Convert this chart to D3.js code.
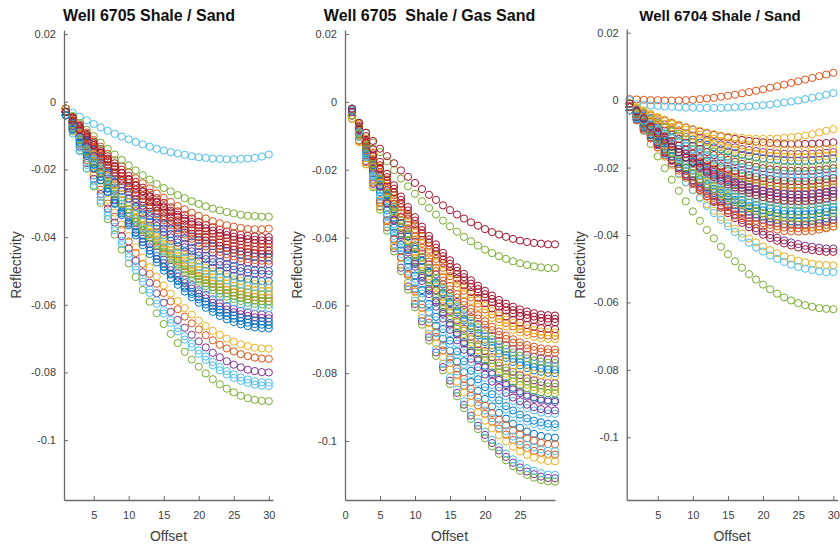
<!DOCTYPE html>
<html><head><meta charset="utf-8">
<script src="https://cdn.jsdelivr.net/npm/d3@7"></script>
<style>body{margin:0;background:#fff} svg{display:block} text{font-family:"Liberation Sans",Arial,Helvetica,sans-serif}</style>
</head><body><svg id="chart" width="840" height="550"></svg>
<script>
const offsets = [1,2,3,4,5,6,7,8,9,10,11,12,13,14,15,16,17,18,19,20,21,22,23,24,25,26,27,28,29,30];
const yTickValues = [0.02, 0, -0.02, -0.04, -0.06, -0.08, -0.1];
const xTicksA = [5, 10, 15, 20, 25, 30];
const xTicksB = [0, 5, 10, 15, 20, 25];
const panelTitles = ["Well 6705 Shale / Sand", "Well 6705  Shale / Gas Sand", "Well 6704 Shale / Sand"];
const axisLabelX = "Offset";
const axisLabelY = "Reflectivity";
const lineColors = ["#0072BD","#D95319","#EDB120","#7E2F8E","#77AC30","#4DBEEE","#A2142F"];

const shaleSand6705 = [
[-0.0030,-0.0062,-0.0093,-0.0122,-0.0151,-0.0178,-0.0204,-0.0230,-0.0254,-0.0276,-0.0298,-0.0319,-0.0338,-0.0357,-0.0375,-0.0391,-0.0406,-0.0420,-0.0432,-0.0444,-0.0455,-0.0464,-0.0473,-0.0480,-0.0486,-0.0491,-0.0495,-0.0498,-0.0499,-0.0500],
[-0.0030,-0.0080,-0.0127,-0.0173,-0.0218,-0.0260,-0.0301,-0.0340,-0.0378,-0.0413,-0.0447,-0.0479,-0.0509,-0.0538,-0.0565,-0.0590,-0.0613,-0.0635,-0.0655,-0.0673,-0.0690,-0.0705,-0.0718,-0.0729,-0.0738,-0.0746,-0.0752,-0.0756,-0.0759,-0.0760],
[-0.0030,-0.0078,-0.0123,-0.0167,-0.0210,-0.0251,-0.0290,-0.0328,-0.0363,-0.0397,-0.0430,-0.0461,-0.0489,-0.0517,-0.0543,-0.0567,-0.0589,-0.0610,-0.0629,-0.0647,-0.0663,-0.0677,-0.0689,-0.0700,-0.0709,-0.0717,-0.0722,-0.0727,-0.0729,-0.0730],
[-0.0030,-0.0072,-0.0111,-0.0150,-0.0187,-0.0222,-0.0256,-0.0289,-0.0320,-0.0350,-0.0378,-0.0405,-0.0430,-0.0455,-0.0477,-0.0498,-0.0517,-0.0536,-0.0552,-0.0567,-0.0581,-0.0594,-0.0605,-0.0614,-0.0622,-0.0628,-0.0633,-0.0637,-0.0639,-0.0640],
[-0.0030,-0.0088,-0.0144,-0.0198,-0.0250,-0.0299,-0.0347,-0.0393,-0.0437,-0.0478,-0.0518,-0.0556,-0.0591,-0.0625,-0.0657,-0.0686,-0.0713,-0.0739,-0.0762,-0.0783,-0.0803,-0.0820,-0.0835,-0.0848,-0.0859,-0.0869,-0.0876,-0.0881,-0.0884,-0.0885],
[-0.0020,-0.0032,-0.0044,-0.0055,-0.0066,-0.0076,-0.0086,-0.0095,-0.0103,-0.0111,-0.0119,-0.0126,-0.0133,-0.0139,-0.0144,-0.0149,-0.0153,-0.0157,-0.0161,-0.0164,-0.0166,-0.0168,-0.0169,-0.0170,-0.0170,-0.0169,-0.0168,-0.0166,-0.0162,-0.0156],
[-0.0020,-0.0046,-0.0071,-0.0095,-0.0118,-0.0140,-0.0161,-0.0182,-0.0201,-0.0219,-0.0237,-0.0254,-0.0269,-0.0285,-0.0299,-0.0312,-0.0324,-0.0335,-0.0345,-0.0355,-0.0364,-0.0371,-0.0378,-0.0384,-0.0389,-0.0393,-0.0396,-0.0398,-0.0400,-0.0400],
[-0.0030,-0.0074,-0.0115,-0.0155,-0.0195,-0.0232,-0.0267,-0.0302,-0.0335,-0.0365,-0.0395,-0.0424,-0.0450,-0.0475,-0.0499,-0.0521,-0.0541,-0.0561,-0.0578,-0.0594,-0.0609,-0.0621,-0.0633,-0.0643,-0.0651,-0.0658,-0.0663,-0.0667,-0.0669,-0.0670],
[-0.0020,-0.0045,-0.0068,-0.0091,-0.0113,-0.0133,-0.0154,-0.0173,-0.0191,-0.0209,-0.0226,-0.0241,-0.0256,-0.0271,-0.0284,-0.0296,-0.0308,-0.0318,-0.0328,-0.0337,-0.0345,-0.0353,-0.0359,-0.0365,-0.0369,-0.0373,-0.0376,-0.0377,-0.0377,-0.0375],
[-0.0030,-0.0065,-0.0098,-0.0130,-0.0161,-0.0191,-0.0219,-0.0247,-0.0273,-0.0297,-0.0321,-0.0344,-0.0365,-0.0385,-0.0404,-0.0421,-0.0438,-0.0453,-0.0467,-0.0479,-0.0491,-0.0501,-0.0510,-0.0518,-0.0525,-0.0530,-0.0534,-0.0538,-0.0540,-0.0540],
[-0.0030,-0.0082,-0.0132,-0.0181,-0.0228,-0.0273,-0.0316,-0.0357,-0.0397,-0.0434,-0.0470,-0.0504,-0.0535,-0.0566,-0.0594,-0.0621,-0.0645,-0.0668,-0.0689,-0.0708,-0.0726,-0.0742,-0.0755,-0.0767,-0.0777,-0.0785,-0.0792,-0.0796,-0.0799,-0.0800],
[-0.0020,-0.0042,-0.0063,-0.0083,-0.0102,-0.0121,-0.0139,-0.0156,-0.0172,-0.0188,-0.0203,-0.0217,-0.0230,-0.0243,-0.0255,-0.0265,-0.0276,-0.0285,-0.0294,-0.0302,-0.0309,-0.0316,-0.0321,-0.0326,-0.0330,-0.0334,-0.0337,-0.0338,-0.0340,-0.0340],
[-0.0030,-0.0084,-0.0136,-0.0187,-0.0236,-0.0282,-0.0327,-0.0370,-0.0411,-0.0449,-0.0487,-0.0522,-0.0555,-0.0587,-0.0616,-0.0644,-0.0669,-0.0693,-0.0715,-0.0735,-0.0753,-0.0769,-0.0784,-0.0796,-0.0806,-0.0815,-0.0821,-0.0826,-0.0829,-0.0830],
[-0.0020,-0.0047,-0.0073,-0.0098,-0.0123,-0.0146,-0.0168,-0.0190,-0.0210,-0.0230,-0.0248,-0.0266,-0.0282,-0.0298,-0.0313,-0.0327,-0.0340,-0.0352,-0.0362,-0.0372,-0.0382,-0.0390,-0.0397,-0.0403,-0.0408,-0.0412,-0.0416,-0.0418,-0.0420,-0.0420],
[-0.0030,-0.0059,-0.0087,-0.0114,-0.0141,-0.0166,-0.0190,-0.0213,-0.0235,-0.0255,-0.0276,-0.0295,-0.0312,-0.0329,-0.0345,-0.0360,-0.0374,-0.0387,-0.0398,-0.0409,-0.0419,-0.0427,-0.0435,-0.0441,-0.0447,-0.0452,-0.0455,-0.0458,-0.0460,-0.0460],
[-0.0030,-0.0067,-0.0103,-0.0138,-0.0171,-0.0203,-0.0234,-0.0264,-0.0292,-0.0318,-0.0344,-0.0368,-0.0391,-0.0413,-0.0433,-0.0452,-0.0470,-0.0486,-0.0501,-0.0515,-0.0527,-0.0538,-0.0548,-0.0556,-0.0564,-0.0570,-0.0574,-0.0577,-0.0580,-0.0580],
[-0.0030,-0.0066,-0.0101,-0.0134,-0.0166,-0.0197,-0.0227,-0.0255,-0.0282,-0.0308,-0.0333,-0.0356,-0.0378,-0.0399,-0.0419,-0.0437,-0.0454,-0.0469,-0.0484,-0.0497,-0.0509,-0.0519,-0.0529,-0.0537,-0.0544,-0.0550,-0.0554,-0.0557,-0.0560,-0.0560],
[-0.0030,-0.0061,-0.0090,-0.0118,-0.0146,-0.0172,-0.0197,-0.0221,-0.0244,-0.0266,-0.0287,-0.0307,-0.0325,-0.0343,-0.0360,-0.0375,-0.0390,-0.0403,-0.0415,-0.0427,-0.0437,-0.0446,-0.0454,-0.0461,-0.0467,-0.0472,-0.0475,-0.0478,-0.0480,-0.0480],
[-0.0030,-0.0069,-0.0106,-0.0142,-0.0177,-0.0210,-0.0242,-0.0272,-0.0301,-0.0329,-0.0356,-0.0381,-0.0404,-0.0427,-0.0448,-0.0467,-0.0485,-0.0503,-0.0518,-0.0532,-0.0545,-0.0557,-0.0567,-0.0576,-0.0583,-0.0589,-0.0594,-0.0597,-0.0599,-0.0600],
[-0.0040,-0.0094,-0.0146,-0.0197,-0.0246,-0.0292,-0.0337,-0.0380,-0.0421,-0.0459,-0.0497,-0.0532,-0.0565,-0.0597,-0.0626,-0.0654,-0.0679,-0.0703,-0.0725,-0.0745,-0.0763,-0.0779,-0.0794,-0.0806,-0.0816,-0.0825,-0.0831,-0.0836,-0.0839,-0.0840],
[-0.0020,-0.0049,-0.0076,-0.0102,-0.0128,-0.0152,-0.0176,-0.0199,-0.0220,-0.0240,-0.0260,-0.0278,-0.0296,-0.0312,-0.0328,-0.0342,-0.0356,-0.0368,-0.0380,-0.0390,-0.0400,-0.0408,-0.0416,-0.0422,-0.0427,-0.0432,-0.0435,-0.0438,-0.0440,-0.0440],
[-0.0020,-0.0055,-0.0088,-0.0120,-0.0151,-0.0181,-0.0209,-0.0237,-0.0263,-0.0287,-0.0311,-0.0334,-0.0355,-0.0375,-0.0394,-0.0411,-0.0428,-0.0443,-0.0457,-0.0469,-0.0481,-0.0491,-0.0500,-0.0508,-0.0515,-0.0520,-0.0524,-0.0528,-0.0530,-0.0530],
[-0.0030,-0.0057,-0.0083,-0.0108,-0.0133,-0.0156,-0.0178,-0.0200,-0.0220,-0.0240,-0.0258,-0.0276,-0.0292,-0.0308,-0.0323,-0.0337,-0.0350,-0.0362,-0.0372,-0.0382,-0.0392,-0.0400,-0.0407,-0.0413,-0.0418,-0.0422,-0.0426,-0.0428,-0.0430,-0.0430],
[-0.0020,-0.0059,-0.0096,-0.0132,-0.0167,-0.0200,-0.0232,-0.0262,-0.0291,-0.0319,-0.0346,-0.0371,-0.0394,-0.0417,-0.0438,-0.0457,-0.0475,-0.0493,-0.0508,-0.0522,-0.0535,-0.0547,-0.0557,-0.0566,-0.0573,-0.0579,-0.0584,-0.0587,-0.0589,-0.0590],
[-0.0020,-0.0062,-0.0101,-0.0140,-0.0177,-0.0212,-0.0246,-0.0279,-0.0310,-0.0340,-0.0368,-0.0395,-0.0420,-0.0445,-0.0467,-0.0488,-0.0507,-0.0526,-0.0542,-0.0557,-0.0571,-0.0584,-0.0595,-0.0604,-0.0612,-0.0618,-0.0623,-0.0627,-0.0629,-0.0630],
[-0.0040,-0.0076,-0.0111,-0.0144,-0.0176,-0.0207,-0.0237,-0.0265,-0.0292,-0.0318,-0.0343,-0.0366,-0.0388,-0.0409,-0.0429,-0.0447,-0.0464,-0.0479,-0.0494,-0.0507,-0.0519,-0.0529,-0.0539,-0.0547,-0.0554,-0.0560,-0.0564,-0.0567,-0.0570,-0.0570],
[-0.0040,-0.0079,-0.0116,-0.0152,-0.0187,-0.0220,-0.0252,-0.0282,-0.0311,-0.0339,-0.0366,-0.0391,-0.0414,-0.0437,-0.0458,-0.0477,-0.0495,-0.0513,-0.0528,-0.0542,-0.0555,-0.0567,-0.0577,-0.0586,-0.0593,-0.0599,-0.0604,-0.0607,-0.0609,-0.0610],
[-0.0030,-0.0059,-0.0086,-0.0112,-0.0138,-0.0162,-0.0186,-0.0209,-0.0230,-0.0250,-0.0270,-0.0288,-0.0306,-0.0322,-0.0338,-0.0352,-0.0366,-0.0378,-0.0390,-0.0400,-0.0410,-0.0418,-0.0426,-0.0432,-0.0437,-0.0442,-0.0445,-0.0448,-0.0450,-0.0450],
[-0.0020,-0.0064,-0.0105,-0.0145,-0.0185,-0.0222,-0.0257,-0.0292,-0.0325,-0.0355,-0.0385,-0.0414,-0.0440,-0.0465,-0.0489,-0.0511,-0.0531,-0.0551,-0.0568,-0.0584,-0.0599,-0.0611,-0.0623,-0.0633,-0.0641,-0.0648,-0.0653,-0.0657,-0.0659,-0.0660],
[-0.0020,-0.0051,-0.0080,-0.0108,-0.0136,-0.0162,-0.0187,-0.0211,-0.0234,-0.0256,-0.0277,-0.0297,-0.0315,-0.0333,-0.0350,-0.0365,-0.0380,-0.0393,-0.0405,-0.0417,-0.0427,-0.0436,-0.0444,-0.0451,-0.0457,-0.0462,-0.0465,-0.0468,-0.0470,-0.0470],
[-0.0020,-0.0056,-0.0091,-0.0124,-0.0156,-0.0187,-0.0217,-0.0245,-0.0272,-0.0298,-0.0323,-0.0346,-0.0368,-0.0389,-0.0409,-0.0427,-0.0444,-0.0459,-0.0474,-0.0487,-0.0499,-0.0509,-0.0519,-0.0527,-0.0534,-0.0540,-0.0544,-0.0547,-0.0550,-0.0550],
[-0.0040,-0.0072,-0.0103,-0.0132,-0.0161,-0.0188,-0.0214,-0.0240,-0.0264,-0.0286,-0.0308,-0.0329,-0.0348,-0.0367,-0.0385,-0.0401,-0.0416,-0.0430,-0.0442,-0.0454,-0.0465,-0.0474,-0.0483,-0.0490,-0.0496,-0.0501,-0.0505,-0.0508,-0.0509,-0.0510],
[-0.0040,-0.0077,-0.0113,-0.0148,-0.0181,-0.0213,-0.0244,-0.0274,-0.0302,-0.0328,-0.0354,-0.0378,-0.0401,-0.0423,-0.0443,-0.0462,-0.0480,-0.0496,-0.0511,-0.0525,-0.0537,-0.0548,-0.0558,-0.0566,-0.0574,-0.0580,-0.0584,-0.0587,-0.0590,-0.0590],
[-0.0040,-0.0075,-0.0108,-0.0140,-0.0171,-0.0201,-0.0229,-0.0257,-0.0283,-0.0307,-0.0331,-0.0354,-0.0375,-0.0395,-0.0414,-0.0431,-0.0448,-0.0463,-0.0477,-0.0489,-0.0501,-0.0511,-0.0520,-0.0528,-0.0535,-0.0540,-0.0544,-0.0548,-0.0550,-0.0550],
[-0.0030,-0.0056,-0.0081,-0.0105,-0.0128,-0.0150,-0.0171,-0.0192,-0.0211,-0.0229,-0.0247,-0.0264,-0.0279,-0.0295,-0.0309,-0.0322,-0.0334,-0.0345,-0.0355,-0.0365,-0.0374,-0.0381,-0.0388,-0.0394,-0.0399,-0.0403,-0.0406,-0.0408,-0.0410,-0.0410],
[-0.0040,-0.0082,-0.0121,-0.0160,-0.0197,-0.0232,-0.0266,-0.0299,-0.0330,-0.0360,-0.0388,-0.0415,-0.0440,-0.0465,-0.0487,-0.0508,-0.0527,-0.0546,-0.0562,-0.0577,-0.0591,-0.0604,-0.0615,-0.0624,-0.0632,-0.0638,-0.0643,-0.0647,-0.0649,-0.0650]
];

const shaleGasSand6705 = [
[-0.0030,-0.0095,-0.0158,-0.0218,-0.0277,-0.0332,-0.0386,-0.0438,-0.0487,-0.0533,-0.0578,-0.0620,-0.0660,-0.0698,-0.0734,-0.0766,-0.0797,-0.0826,-0.0852,-0.0876,-0.0898,-0.0917,-0.0934,-0.0949,-0.0961,-0.0972,-0.0979,-0.0985,-0.0989,-0.0990],
[-0.0030,-0.0075,-0.0118,-0.0159,-0.0200,-0.0238,-0.0275,-0.0311,-0.0344,-0.0376,-0.0407,-0.0436,-0.0463,-0.0489,-0.0514,-0.0536,-0.0557,-0.0577,-0.0595,-0.0612,-0.0627,-0.0640,-0.0652,-0.0662,-0.0670,-0.0678,-0.0683,-0.0687,-0.0689,-0.0690],
[-0.0030,-0.0086,-0.0139,-0.0191,-0.0241,-0.0288,-0.0334,-0.0379,-0.0420,-0.0460,-0.0498,-0.0534,-0.0568,-0.0601,-0.0631,-0.0659,-0.0685,-0.0710,-0.0732,-0.0752,-0.0771,-0.0788,-0.0802,-0.0815,-0.0825,-0.0834,-0.0841,-0.0846,-0.0849,-0.0850],
[-0.0030,-0.0103,-0.0174,-0.0242,-0.0308,-0.0370,-0.0431,-0.0489,-0.0544,-0.0596,-0.0647,-0.0694,-0.0739,-0.0782,-0.0822,-0.0858,-0.0893,-0.0925,-0.0955,-0.0982,-0.1006,-0.1028,-0.1047,-0.1064,-0.1078,-0.1090,-0.1098,-0.1105,-0.1109,-0.1110],
[-0.0030,-0.0061,-0.0091,-0.0120,-0.0148,-0.0175,-0.0201,-0.0226,-0.0249,-0.0271,-0.0293,-0.0313,-0.0332,-0.0350,-0.0367,-0.0383,-0.0398,-0.0411,-0.0424,-0.0436,-0.0446,-0.0455,-0.0463,-0.0470,-0.0476,-0.0481,-0.0485,-0.0488,-0.0490,-0.0490],
[-0.0030,-0.0090,-0.0148,-0.0204,-0.0259,-0.0310,-0.0360,-0.0408,-0.0454,-0.0496,-0.0538,-0.0577,-0.0614,-0.0649,-0.0682,-0.0713,-0.0741,-0.0768,-0.0792,-0.0814,-0.0835,-0.0852,-0.0868,-0.0882,-0.0893,-0.0903,-0.0910,-0.0916,-0.0919,-0.0920],
[-0.0040,-0.0066,-0.0091,-0.0115,-0.0138,-0.0160,-0.0181,-0.0202,-0.0221,-0.0239,-0.0257,-0.0274,-0.0289,-0.0305,-0.0319,-0.0332,-0.0344,-0.0355,-0.0365,-0.0375,-0.0384,-0.0391,-0.0398,-0.0404,-0.0409,-0.0413,-0.0416,-0.0418,-0.0420,-0.0420],
[-0.0030,-0.0082,-0.0132,-0.0181,-0.0228,-0.0273,-0.0316,-0.0357,-0.0397,-0.0434,-0.0470,-0.0504,-0.0535,-0.0566,-0.0594,-0.0621,-0.0645,-0.0668,-0.0689,-0.0708,-0.0726,-0.0742,-0.0755,-0.0767,-0.0777,-0.0785,-0.0792,-0.0796,-0.0799,-0.0800],
[-0.0030,-0.0099,-0.0164,-0.0228,-0.0290,-0.0348,-0.0405,-0.0459,-0.0511,-0.0559,-0.0607,-0.0651,-0.0693,-0.0733,-0.0770,-0.0805,-0.0837,-0.0867,-0.0895,-0.0920,-0.0943,-0.0963,-0.0981,-0.0997,-0.1011,-0.1021,-0.1029,-0.1035,-0.1039,-0.1040],
[-0.0040,-0.0085,-0.0128,-0.0169,-0.0210,-0.0248,-0.0285,-0.0321,-0.0354,-0.0386,-0.0417,-0.0446,-0.0473,-0.0499,-0.0524,-0.0546,-0.0567,-0.0587,-0.0605,-0.0622,-0.0637,-0.0650,-0.0662,-0.0672,-0.0680,-0.0688,-0.0693,-0.0697,-0.0699,-0.0700],
[-0.0030,-0.0080,-0.0127,-0.0173,-0.0218,-0.0260,-0.0301,-0.0340,-0.0378,-0.0413,-0.0447,-0.0479,-0.0509,-0.0538,-0.0565,-0.0590,-0.0613,-0.0635,-0.0655,-0.0673,-0.0690,-0.0705,-0.0718,-0.0729,-0.0738,-0.0746,-0.0752,-0.0756,-0.0759,-0.0760],
[-0.0040,-0.0113,-0.0184,-0.0252,-0.0318,-0.0380,-0.0441,-0.0499,-0.0554,-0.0606,-0.0657,-0.0704,-0.0749,-0.0792,-0.0832,-0.0868,-0.0903,-0.0935,-0.0965,-0.0992,-0.1016,-0.1038,-0.1057,-0.1074,-0.1088,-0.1100,-0.1108,-0.1115,-0.1119,-0.1120],
[-0.0020,-0.0093,-0.0164,-0.0232,-0.0298,-0.0360,-0.0421,-0.0479,-0.0534,-0.0586,-0.0637,-0.0684,-0.0729,-0.0772,-0.0812,-0.0848,-0.0883,-0.0915,-0.0945,-0.0972,-0.0996,-0.1018,-0.1037,-0.1054,-0.1068,-0.1080,-0.1088,-0.1095,-0.1099,-0.1100],
[-0.0030,-0.0072,-0.0111,-0.0150,-0.0187,-0.0222,-0.0256,-0.0289,-0.0320,-0.0350,-0.0378,-0.0405,-0.0430,-0.0455,-0.0477,-0.0498,-0.0517,-0.0536,-0.0552,-0.0567,-0.0581,-0.0594,-0.0605,-0.0614,-0.0622,-0.0628,-0.0633,-0.0637,-0.0639,-0.0640],
[-0.0025,-0.0083,-0.0139,-0.0193,-0.0245,-0.0294,-0.0342,-0.0388,-0.0432,-0.0473,-0.0513,-0.0551,-0.0586,-0.0620,-0.0652,-0.0681,-0.0708,-0.0734,-0.0757,-0.0778,-0.0798,-0.0815,-0.0830,-0.0843,-0.0854,-0.0864,-0.0871,-0.0876,-0.0879,-0.0880],
[-0.0050,-0.0115,-0.0178,-0.0238,-0.0297,-0.0352,-0.0406,-0.0458,-0.0507,-0.0553,-0.0598,-0.0640,-0.0680,-0.0718,-0.0754,-0.0786,-0.0817,-0.0846,-0.0872,-0.0896,-0.0918,-0.0937,-0.0954,-0.0969,-0.0981,-0.0992,-0.0999,-0.1005,-0.1009,-0.1010],
[-0.0050,-0.0119,-0.0184,-0.0248,-0.0310,-0.0368,-0.0425,-0.0479,-0.0531,-0.0579,-0.0627,-0.0671,-0.0713,-0.0753,-0.0790,-0.0825,-0.0857,-0.0887,-0.0915,-0.0940,-0.0963,-0.0983,-0.1001,-0.1017,-0.1031,-0.1041,-0.1049,-0.1055,-0.1059,-0.1060],
[-0.0030,-0.0084,-0.0136,-0.0187,-0.0236,-0.0282,-0.0327,-0.0370,-0.0411,-0.0449,-0.0487,-0.0522,-0.0555,-0.0587,-0.0616,-0.0644,-0.0669,-0.0693,-0.0715,-0.0735,-0.0753,-0.0769,-0.0784,-0.0796,-0.0806,-0.0815,-0.0821,-0.0826,-0.0829,-0.0830],
[-0.0040,-0.0096,-0.0149,-0.0201,-0.0251,-0.0298,-0.0344,-0.0389,-0.0430,-0.0470,-0.0508,-0.0544,-0.0578,-0.0611,-0.0641,-0.0669,-0.0695,-0.0720,-0.0742,-0.0762,-0.0781,-0.0798,-0.0812,-0.0825,-0.0835,-0.0844,-0.0851,-0.0856,-0.0859,-0.0860],
[-0.0030,-0.0081,-0.0130,-0.0177,-0.0223,-0.0266,-0.0308,-0.0349,-0.0387,-0.0423,-0.0458,-0.0491,-0.0522,-0.0552,-0.0580,-0.0605,-0.0629,-0.0652,-0.0672,-0.0691,-0.0708,-0.0723,-0.0737,-0.0748,-0.0758,-0.0766,-0.0772,-0.0776,-0.0779,-0.0780],
[-0.0030,-0.0074,-0.0115,-0.0155,-0.0195,-0.0232,-0.0267,-0.0302,-0.0335,-0.0365,-0.0395,-0.0424,-0.0450,-0.0475,-0.0499,-0.0521,-0.0541,-0.0561,-0.0578,-0.0594,-0.0609,-0.0621,-0.0633,-0.0643,-0.0651,-0.0658,-0.0663,-0.0667,-0.0669,-0.0670],
[-0.0030,-0.0093,-0.0152,-0.0210,-0.0266,-0.0320,-0.0371,-0.0421,-0.0468,-0.0512,-0.0555,-0.0596,-0.0634,-0.0670,-0.0704,-0.0736,-0.0765,-0.0793,-0.0818,-0.0841,-0.0862,-0.0880,-0.0897,-0.0910,-0.0922,-0.0933,-0.0940,-0.0945,-0.0949,-0.0950],
[-0.0030,-0.0078,-0.0123,-0.0167,-0.0210,-0.0251,-0.0290,-0.0328,-0.0363,-0.0397,-0.0430,-0.0461,-0.0489,-0.0517,-0.0543,-0.0567,-0.0589,-0.0610,-0.0629,-0.0647,-0.0663,-0.0677,-0.0689,-0.0700,-0.0709,-0.0717,-0.0722,-0.0727,-0.0729,-0.0730],
[-0.0020,-0.0065,-0.0108,-0.0149,-0.0190,-0.0228,-0.0265,-0.0301,-0.0334,-0.0366,-0.0397,-0.0426,-0.0453,-0.0479,-0.0504,-0.0526,-0.0547,-0.0567,-0.0585,-0.0602,-0.0617,-0.0630,-0.0642,-0.0652,-0.0660,-0.0668,-0.0673,-0.0677,-0.0679,-0.0680],
[-0.0020,-0.0080,-0.0138,-0.0194,-0.0249,-0.0300,-0.0350,-0.0398,-0.0444,-0.0486,-0.0528,-0.0567,-0.0604,-0.0639,-0.0672,-0.0703,-0.0731,-0.0758,-0.0782,-0.0804,-0.0825,-0.0842,-0.0858,-0.0872,-0.0883,-0.0893,-0.0900,-0.0906,-0.0909,-0.0910],
[-0.0020,-0.0076,-0.0129,-0.0181,-0.0231,-0.0278,-0.0324,-0.0369,-0.0410,-0.0450,-0.0488,-0.0524,-0.0558,-0.0591,-0.0621,-0.0649,-0.0675,-0.0700,-0.0722,-0.0742,-0.0761,-0.0778,-0.0792,-0.0805,-0.0815,-0.0824,-0.0831,-0.0836,-0.0839,-0.0840],
[-0.0040,-0.0103,-0.0162,-0.0220,-0.0276,-0.0330,-0.0381,-0.0431,-0.0478,-0.0522,-0.0565,-0.0606,-0.0644,-0.0680,-0.0714,-0.0746,-0.0775,-0.0803,-0.0828,-0.0851,-0.0872,-0.0890,-0.0907,-0.0920,-0.0932,-0.0943,-0.0950,-0.0955,-0.0959,-0.0960],
[-0.0040,-0.0082,-0.0121,-0.0160,-0.0197,-0.0232,-0.0266,-0.0299,-0.0330,-0.0360,-0.0388,-0.0415,-0.0440,-0.0465,-0.0487,-0.0508,-0.0527,-0.0546,-0.0562,-0.0577,-0.0591,-0.0604,-0.0615,-0.0624,-0.0632,-0.0638,-0.0643,-0.0647,-0.0649,-0.0650],
[-0.0040,-0.0091,-0.0140,-0.0187,-0.0233,-0.0276,-0.0318,-0.0359,-0.0397,-0.0433,-0.0468,-0.0501,-0.0532,-0.0562,-0.0590,-0.0615,-0.0639,-0.0662,-0.0682,-0.0701,-0.0718,-0.0733,-0.0747,-0.0758,-0.0768,-0.0776,-0.0782,-0.0786,-0.0789,-0.0790],
[-0.0040,-0.0088,-0.0133,-0.0177,-0.0220,-0.0261,-0.0300,-0.0338,-0.0373,-0.0407,-0.0440,-0.0471,-0.0499,-0.0527,-0.0553,-0.0577,-0.0599,-0.0620,-0.0639,-0.0657,-0.0673,-0.0687,-0.0699,-0.0710,-0.0719,-0.0727,-0.0732,-0.0737,-0.0739,-0.0740],
[-0.0040,-0.0092,-0.0142,-0.0191,-0.0238,-0.0283,-0.0326,-0.0367,-0.0407,-0.0444,-0.0480,-0.0514,-0.0545,-0.0576,-0.0604,-0.0631,-0.0655,-0.0678,-0.0699,-0.0718,-0.0736,-0.0752,-0.0765,-0.0777,-0.0787,-0.0795,-0.0802,-0.0806,-0.0809,-0.0810],
[-0.0030,-0.0088,-0.0144,-0.0198,-0.0250,-0.0299,-0.0347,-0.0393,-0.0437,-0.0478,-0.0518,-0.0556,-0.0591,-0.0625,-0.0657,-0.0686,-0.0713,-0.0739,-0.0762,-0.0783,-0.0803,-0.0820,-0.0835,-0.0848,-0.0859,-0.0869,-0.0876,-0.0881,-0.0884,-0.0885],
[-0.0040,-0.0090,-0.0137,-0.0183,-0.0228,-0.0270,-0.0311,-0.0350,-0.0388,-0.0423,-0.0457,-0.0489,-0.0519,-0.0548,-0.0575,-0.0600,-0.0623,-0.0645,-0.0665,-0.0683,-0.0700,-0.0715,-0.0728,-0.0739,-0.0748,-0.0756,-0.0762,-0.0766,-0.0769,-0.0770],
[-0.0020,-0.0089,-0.0154,-0.0218,-0.0280,-0.0338,-0.0395,-0.0449,-0.0501,-0.0549,-0.0597,-0.0641,-0.0683,-0.0723,-0.0760,-0.0795,-0.0827,-0.0857,-0.0885,-0.0910,-0.0933,-0.0953,-0.0971,-0.0987,-0.1001,-0.1011,-0.1019,-0.1025,-0.1029,-0.1030],
[-0.0020,-0.0062,-0.0101,-0.0140,-0.0177,-0.0212,-0.0246,-0.0279,-0.0310,-0.0340,-0.0368,-0.0395,-0.0420,-0.0445,-0.0467,-0.0488,-0.0507,-0.0526,-0.0542,-0.0557,-0.0571,-0.0584,-0.0595,-0.0604,-0.0612,-0.0618,-0.0623,-0.0627,-0.0629,-0.0630]
];

const shaleSand6704 = [
[-0.0020,-0.0045,-0.0070,-0.0093,-0.0115,-0.0136,-0.0156,-0.0174,-0.0192,-0.0209,-0.0225,-0.0239,-0.0253,-0.0265,-0.0276,-0.0286,-0.0296,-0.0304,-0.0311,-0.0317,-0.0321,-0.0325,-0.0328,-0.0329,-0.0330,-0.0329,-0.0328,-0.0325,-0.0321,-0.0317],
[0.0003,0.0002,0.0001,0.0000,0.0000,-0.0001,-0.0001,-0.0001,0.0000,0.0001,0.0003,0.0005,0.0007,0.0010,0.0013,0.0016,0.0020,0.0024,0.0028,0.0032,0.0037,0.0041,0.0046,0.0051,0.0056,0.0061,0.0066,0.0071,0.0076,0.0081],
[-0.0020,-0.0052,-0.0083,-0.0112,-0.0141,-0.0168,-0.0194,-0.0220,-0.0244,-0.0266,-0.0288,-0.0309,-0.0328,-0.0347,-0.0365,-0.0381,-0.0396,-0.0410,-0.0422,-0.0434,-0.0445,-0.0454,-0.0463,-0.0470,-0.0476,-0.0481,-0.0485,-0.0488,-0.0489,-0.0490],
[-0.0020,-0.0049,-0.0076,-0.0102,-0.0128,-0.0152,-0.0176,-0.0199,-0.0220,-0.0240,-0.0260,-0.0278,-0.0296,-0.0312,-0.0328,-0.0342,-0.0356,-0.0368,-0.0380,-0.0390,-0.0400,-0.0408,-0.0416,-0.0422,-0.0427,-0.0432,-0.0435,-0.0438,-0.0440,-0.0440],
[-0.0010,-0.0052,-0.0091,-0.0130,-0.0167,-0.0202,-0.0236,-0.0269,-0.0300,-0.0330,-0.0358,-0.0385,-0.0410,-0.0435,-0.0457,-0.0478,-0.0497,-0.0516,-0.0532,-0.0547,-0.0561,-0.0574,-0.0585,-0.0594,-0.0602,-0.0608,-0.0613,-0.0617,-0.0619,-0.0620],
[-0.0010,-0.0012,-0.0014,-0.0016,-0.0017,-0.0019,-0.0020,-0.0021,-0.0022,-0.0022,-0.0023,-0.0023,-0.0023,-0.0023,-0.0022,-0.0021,-0.0020,-0.0019,-0.0017,-0.0015,-0.0013,-0.0010,-0.0007,-0.0004,-0.0001,0.0003,0.0007,0.0011,0.0016,0.0021],
[-0.0020,-0.0029,-0.0038,-0.0046,-0.0054,-0.0061,-0.0068,-0.0075,-0.0081,-0.0087,-0.0093,-0.0098,-0.0103,-0.0107,-0.0111,-0.0115,-0.0118,-0.0121,-0.0123,-0.0125,-0.0127,-0.0128,-0.0129,-0.0130,-0.0130,-0.0130,-0.0129,-0.0128,-0.0127,-0.0125],
[-0.0020,-0.0033,-0.0046,-0.0057,-0.0069,-0.0080,-0.0090,-0.0100,-0.0109,-0.0117,-0.0126,-0.0133,-0.0140,-0.0146,-0.0152,-0.0157,-0.0162,-0.0166,-0.0170,-0.0173,-0.0176,-0.0177,-0.0179,-0.0180,-0.0180,-0.0180,-0.0179,-0.0177,-0.0176,-0.0173],
[-0.0020,-0.0050,-0.0078,-0.0104,-0.0130,-0.0154,-0.0178,-0.0199,-0.0220,-0.0239,-0.0258,-0.0275,-0.0290,-0.0304,-0.0317,-0.0329,-0.0340,-0.0349,-0.0358,-0.0365,-0.0370,-0.0374,-0.0378,-0.0379,-0.0380,-0.0379,-0.0378,-0.0374,-0.0370,-0.0365],
[-0.0010,-0.0021,-0.0031,-0.0041,-0.0050,-0.0058,-0.0066,-0.0073,-0.0080,-0.0086,-0.0091,-0.0096,-0.0101,-0.0105,-0.0108,-0.0110,-0.0112,-0.0114,-0.0115,-0.0115,-0.0115,-0.0114,-0.0112,-0.0110,-0.0108,-0.0105,-0.0101,-0.0096,-0.0091,-0.0086],
[-0.0020,-0.0032,-0.0042,-0.0053,-0.0063,-0.0072,-0.0081,-0.0090,-0.0098,-0.0105,-0.0112,-0.0119,-0.0125,-0.0131,-0.0136,-0.0140,-0.0145,-0.0148,-0.0151,-0.0154,-0.0156,-0.0158,-0.0159,-0.0160,-0.0160,-0.0160,-0.0159,-0.0158,-0.0156,-0.0154],
[-0.0020,-0.0044,-0.0066,-0.0088,-0.0109,-0.0128,-0.0147,-0.0164,-0.0181,-0.0197,-0.0211,-0.0225,-0.0238,-0.0249,-0.0260,-0.0269,-0.0278,-0.0285,-0.0292,-0.0298,-0.0302,-0.0305,-0.0308,-0.0309,-0.0310,-0.0309,-0.0308,-0.0305,-0.0302,-0.0298],
[-0.0020,-0.0037,-0.0054,-0.0069,-0.0084,-0.0098,-0.0112,-0.0125,-0.0137,-0.0148,-0.0159,-0.0169,-0.0178,-0.0186,-0.0194,-0.0200,-0.0207,-0.0212,-0.0217,-0.0221,-0.0224,-0.0227,-0.0229,-0.0230,-0.0230,-0.0230,-0.0229,-0.0227,-0.0224,-0.0221],
[-0.0020,-0.0036,-0.0050,-0.0064,-0.0078,-0.0091,-0.0103,-0.0115,-0.0126,-0.0136,-0.0145,-0.0154,-0.0163,-0.0170,-0.0177,-0.0183,-0.0189,-0.0194,-0.0198,-0.0202,-0.0205,-0.0207,-0.0209,-0.0210,-0.0210,-0.0210,-0.0209,-0.0207,-0.0205,-0.0202],
[-0.0020,-0.0048,-0.0074,-0.0100,-0.0124,-0.0147,-0.0169,-0.0189,-0.0209,-0.0227,-0.0244,-0.0260,-0.0275,-0.0289,-0.0301,-0.0312,-0.0322,-0.0331,-0.0339,-0.0345,-0.0351,-0.0355,-0.0358,-0.0359,-0.0360,-0.0359,-0.0358,-0.0355,-0.0351,-0.0345],
[-0.0020,-0.0041,-0.0060,-0.0079,-0.0097,-0.0113,-0.0129,-0.0145,-0.0159,-0.0172,-0.0185,-0.0197,-0.0208,-0.0218,-0.0227,-0.0235,-0.0242,-0.0249,-0.0254,-0.0259,-0.0263,-0.0266,-0.0268,-0.0270,-0.0270,-0.0270,-0.0268,-0.0266,-0.0263,-0.0259],
[-0.0020,-0.0045,-0.0068,-0.0091,-0.0113,-0.0133,-0.0154,-0.0173,-0.0191,-0.0209,-0.0226,-0.0241,-0.0256,-0.0271,-0.0284,-0.0296,-0.0308,-0.0318,-0.0328,-0.0337,-0.0345,-0.0353,-0.0359,-0.0365,-0.0369,-0.0373,-0.0376,-0.0377,-0.0377,-0.0375],
[-0.0020,-0.0042,-0.0063,-0.0083,-0.0103,-0.0121,-0.0138,-0.0155,-0.0170,-0.0184,-0.0198,-0.0211,-0.0223,-0.0233,-0.0243,-0.0252,-0.0260,-0.0267,-0.0273,-0.0278,-0.0282,-0.0286,-0.0288,-0.0290,-0.0290,-0.0290,-0.0288,-0.0286,-0.0282,-0.0278],
[-0.0020,-0.0039,-0.0057,-0.0074,-0.0090,-0.0106,-0.0121,-0.0135,-0.0148,-0.0160,-0.0172,-0.0183,-0.0193,-0.0202,-0.0210,-0.0218,-0.0225,-0.0231,-0.0236,-0.0240,-0.0244,-0.0246,-0.0248,-0.0250,-0.0250,-0.0250,-0.0248,-0.0246,-0.0244,-0.0240],
[0.0000,-0.0035,-0.0068,-0.0100,-0.0131,-0.0161,-0.0189,-0.0217,-0.0243,-0.0267,-0.0291,-0.0314,-0.0335,-0.0355,-0.0374,-0.0391,-0.0408,-0.0423,-0.0437,-0.0449,-0.0461,-0.0471,-0.0480,-0.0488,-0.0495,-0.0500,-0.0504,-0.0508,-0.0510,-0.0510],
[-0.0020,-0.0049,-0.0077,-0.0104,-0.0131,-0.0156,-0.0180,-0.0203,-0.0225,-0.0245,-0.0266,-0.0285,-0.0302,-0.0319,-0.0335,-0.0350,-0.0364,-0.0377,-0.0388,-0.0399,-0.0409,-0.0417,-0.0425,-0.0431,-0.0437,-0.0442,-0.0445,-0.0448,-0.0450,-0.0450],
[-0.0030,-0.0055,-0.0080,-0.0103,-0.0125,-0.0146,-0.0166,-0.0184,-0.0202,-0.0219,-0.0235,-0.0249,-0.0263,-0.0275,-0.0286,-0.0296,-0.0306,-0.0314,-0.0321,-0.0327,-0.0331,-0.0335,-0.0338,-0.0339,-0.0340,-0.0339,-0.0338,-0.0335,-0.0331,-0.0327],
[-0.0030,-0.0049,-0.0067,-0.0084,-0.0100,-0.0116,-0.0131,-0.0145,-0.0158,-0.0170,-0.0182,-0.0193,-0.0203,-0.0212,-0.0220,-0.0228,-0.0235,-0.0241,-0.0246,-0.0250,-0.0254,-0.0256,-0.0258,-0.0260,-0.0260,-0.0260,-0.0258,-0.0256,-0.0254,-0.0250],
[-0.0010,-0.0022,-0.0032,-0.0043,-0.0053,-0.0062,-0.0071,-0.0080,-0.0088,-0.0095,-0.0102,-0.0109,-0.0115,-0.0121,-0.0126,-0.0130,-0.0135,-0.0138,-0.0141,-0.0144,-0.0146,-0.0148,-0.0149,-0.0150,-0.0150,-0.0150,-0.0149,-0.0148,-0.0146,-0.0144],
[-0.0030,-0.0058,-0.0084,-0.0110,-0.0134,-0.0157,-0.0179,-0.0199,-0.0219,-0.0237,-0.0254,-0.0270,-0.0285,-0.0299,-0.0311,-0.0322,-0.0332,-0.0341,-0.0349,-0.0355,-0.0361,-0.0365,-0.0368,-0.0369,-0.0370,-0.0369,-0.0368,-0.0365,-0.0361,-0.0355],
[-0.0010,-0.0026,-0.0040,-0.0054,-0.0068,-0.0081,-0.0093,-0.0105,-0.0116,-0.0126,-0.0135,-0.0144,-0.0153,-0.0160,-0.0167,-0.0173,-0.0179,-0.0184,-0.0188,-0.0192,-0.0195,-0.0197,-0.0199,-0.0200,-0.0200,-0.0200,-0.0199,-0.0197,-0.0195,-0.0192],
[-0.0030,-0.0054,-0.0076,-0.0098,-0.0119,-0.0138,-0.0157,-0.0174,-0.0191,-0.0207,-0.0221,-0.0235,-0.0248,-0.0259,-0.0270,-0.0279,-0.0288,-0.0295,-0.0302,-0.0308,-0.0312,-0.0315,-0.0318,-0.0319,-0.0320,-0.0319,-0.0318,-0.0315,-0.0312,-0.0308],
[-0.0030,-0.0047,-0.0064,-0.0079,-0.0094,-0.0108,-0.0122,-0.0135,-0.0147,-0.0158,-0.0169,-0.0179,-0.0188,-0.0196,-0.0204,-0.0210,-0.0217,-0.0222,-0.0227,-0.0231,-0.0234,-0.0237,-0.0239,-0.0240,-0.0240,-0.0240,-0.0239,-0.0237,-0.0234,-0.0231],
[-0.0030,-0.0051,-0.0070,-0.0089,-0.0107,-0.0123,-0.0139,-0.0155,-0.0169,-0.0182,-0.0195,-0.0207,-0.0218,-0.0228,-0.0237,-0.0245,-0.0252,-0.0259,-0.0264,-0.0269,-0.0273,-0.0276,-0.0278,-0.0280,-0.0280,-0.0280,-0.0278,-0.0276,-0.0273,-0.0269],
[-0.0030,-0.0060,-0.0088,-0.0114,-0.0140,-0.0164,-0.0188,-0.0209,-0.0230,-0.0249,-0.0268,-0.0285,-0.0300,-0.0314,-0.0327,-0.0339,-0.0350,-0.0359,-0.0368,-0.0375,-0.0380,-0.0384,-0.0388,-0.0389,-0.0390,-0.0389,-0.0388,-0.0384,-0.0380,-0.0375],
[-0.0010,-0.0023,-0.0036,-0.0047,-0.0059,-0.0070,-0.0080,-0.0090,-0.0099,-0.0107,-0.0116,-0.0123,-0.0130,-0.0136,-0.0142,-0.0147,-0.0152,-0.0156,-0.0160,-0.0163,-0.0166,-0.0167,-0.0169,-0.0170,-0.0170,-0.0170,-0.0169,-0.0167,-0.0166,-0.0163],
[-0.0010,-0.0032,-0.0053,-0.0073,-0.0093,-0.0111,-0.0128,-0.0145,-0.0160,-0.0174,-0.0188,-0.0201,-0.0213,-0.0223,-0.0233,-0.0242,-0.0250,-0.0257,-0.0263,-0.0268,-0.0272,-0.0276,-0.0278,-0.0280,-0.0280,-0.0280,-0.0278,-0.0276,-0.0272,-0.0268],
[-0.0010,-0.0038,-0.0064,-0.0090,-0.0114,-0.0137,-0.0159,-0.0179,-0.0199,-0.0217,-0.0234,-0.0250,-0.0265,-0.0279,-0.0291,-0.0302,-0.0312,-0.0321,-0.0329,-0.0335,-0.0341,-0.0345,-0.0348,-0.0349,-0.0350,-0.0349,-0.0348,-0.0345,-0.0341,-0.0335],
[-0.0030,-0.0046,-0.0060,-0.0074,-0.0088,-0.0101,-0.0113,-0.0125,-0.0136,-0.0146,-0.0155,-0.0164,-0.0173,-0.0180,-0.0187,-0.0193,-0.0199,-0.0204,-0.0208,-0.0212,-0.0215,-0.0217,-0.0219,-0.0220,-0.0220,-0.0220,-0.0219,-0.0217,-0.0215,-0.0212],
[-0.0010,-0.0034,-0.0056,-0.0078,-0.0099,-0.0118,-0.0137,-0.0154,-0.0171,-0.0187,-0.0201,-0.0215,-0.0228,-0.0239,-0.0250,-0.0259,-0.0268,-0.0275,-0.0282,-0.0288,-0.0292,-0.0295,-0.0298,-0.0299,-0.0300,-0.0299,-0.0298,-0.0295,-0.0292,-0.0288]
];

const panels = [
  {title: panelTitles[0], series: shaleSand6705, xTicks: xTicksA,
   xDomain: [0.76, 30.6], xRange: [64, 273], yDomain: [-0.1177, 0.0212], yRange: [500, 30],
   titleX: 149, titleSize: 16, ylabX: 21, xlabX: 168.5},
  {title: panelTitles[1], series: shaleGasSand6705, xTicks: xTicksB,
   xDomain: [0, 30], xRange: [345, 555], yDomain: [-0.1174, 0.0212], yRange: [500, 30],
   titleX: 429.5, titleSize: 16, ylabX: 302, xlabX: 449.5},
  {title: panelTitles[2], series: shaleSand6704, xTicks: xTicksA,
   xDomain: [0.58, 30.6], xRange: [626.7, 837.5], yDomain: [-0.1186, 0.0211], yRange: [500, 29],
   titleX: 720, titleSize: 15, ylabX: 585, xlabX: 732}
];

const svg = d3.select("#chart");
const color = i => lineColors[i % lineColors.length];
const axisColor = "#6b6b6b", textColor = "#404040";

panels.forEach(p => {
  const x = d3.scaleLinear().domain(p.xDomain).range(p.xRange);
  const y = d3.scaleLinear().domain(p.yDomain).range(p.yRange);
  const g = svg.append("g");

  p.series.forEach((vals, si) => {
    g.append("g")
      .selectAll("circle")
      .data(vals.map((v, k) => [offsets[k], v]))
      .join("circle")
      .attr("cx", d => x(d[0]))
      .attr("cy", d => y(d[1]))
      .attr("r", 3.6)
      .attr("fill", "none")
      .attr("stroke", color(si))
      .attr("stroke-width", 1);
  });

  const ya = g.append("g").attr("transform", `translate(${p.xRange[0]},0)`)
    .call(d3.axisLeft(y).tickValues(yTickValues).tickFormat(d => String(d))
      .tickSizeInner(-4).tickSizeOuter(0).tickPadding(8));
  const xa = g.append("g").attr("transform", `translate(0,${p.yRange[0]})`)
    .call(d3.axisBottom(x).tickValues(p.xTicks).tickFormat(d => String(d))
      .tickSizeInner(-4).tickSizeOuter(0).tickPadding(11));
  [ya, xa].forEach(a => {
    a.select(".domain").attr("stroke", axisColor).attr("stroke-width", 1.3);
    a.selectAll(".tick line").attr("stroke", axisColor).attr("stroke-width", 1);
    a.selectAll(".tick text").attr("fill", textColor)
      .style("font-size", "11px").style("font-family", '"Liberation Sans", Arial, sans-serif');
  });

  g.append("text").attr("x", p.xlabX).attr("y", 541).attr("text-anchor", "middle")
    .attr("fill", textColor).style("font-size", "14px").text(axisLabelX);
  g.append("text").attr("transform", `translate(${p.ylabX},265) rotate(-90)`)
    .attr("text-anchor", "middle").attr("fill", textColor).style("font-size", "14px").text(axisLabelY);
  g.append("text").attr("x", p.titleX).attr("y", 21).attr("text-anchor", "middle")
    .attr("fill", "#111").style("font-weight", "bold").style("font-size", p.titleSize + "px")
    .attr("xml:space", "preserve").style("white-space", "pre").text(p.title);
});
</script>
</body></html>
